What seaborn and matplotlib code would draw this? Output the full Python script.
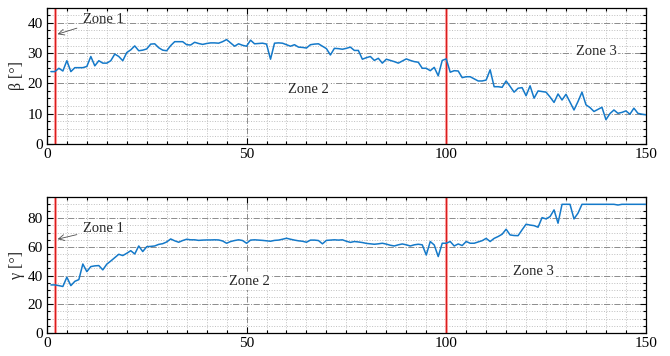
import pandas as pd
import matplotlib.pyplot as plt
import seaborn as sns
from matplotlib.ticker import MultipleLocator

# Data (one sample per step)
step = list(range(1, 151))
beta = [23.9, 23.9, 25.0, 24.1, 27.5, 23.9, 25.2, 25.2, 25.2, 25.6,
        28.9, 25.8, 27.5, 26.7, 26.7, 27.5, 29.7, 28.9, 27.5, 30.2,
        31.1, 32.4, 30.8, 31.0, 31.4, 33.0, 33.1, 31.8, 31.0, 30.8,
        32.5, 33.8, 33.8, 33.8, 32.8, 32.7, 33.6, 33.2, 32.9, 33.2,
        33.4, 33.4, 33.3, 33.8, 34.5, 33.4, 32.3, 33.1, 32.6, 32.3,
        34.3, 33.1, 33.2, 33.3, 33.0, 28.0, 33.3, 33.4, 33.3, 32.8,
        32.3, 32.8, 32.0, 31.9, 31.7, 32.8, 33.0, 33.1, 32.3, 31.5,
        29.4, 31.6, 31.5, 31.3, 31.6, 32.0, 30.9, 30.9, 28.0, 28.5,
        28.9, 27.6, 28.3, 26.7, 28.0, 27.6, 27.2, 26.7, 27.4, 28.1,
        27.6, 27.2, 27.0, 25.0, 25.0, 24.2, 25.3, 22.5, 27.6, 28.1,
        23.7, 24.2, 24.1, 21.9, 22.2, 22.2, 21.5, 20.8, 20.8, 21.1,
        24.5, 18.9, 18.9, 18.7, 20.8, 19.0, 17.1, 18.4, 18.6, 15.9,
        19.2, 15.1, 17.5, 17.3, 17.1, 15.5, 13.7, 16.5, 14.5, 16.4,
        13.8, 11.2, 14.0, 17.1, 12.9, 12.0, 10.7, 11.4, 12.1, 8.0,
        10.0, 11.2, 10.1, 10.4, 10.9, 9.8, 11.8, 10.1, 9.8, 9.6]
gamma = [33.5, 33.5, 33.0, 32.4, 38.9, 33.0, 36.0, 37.2, 48.1, 42.8,
         46.3, 46.8, 47.0, 44.0, 48.0, 50.2, 52.5, 54.9, 54.0, 55.6,
         57.4, 55.1, 60.7, 56.8, 60.2, 60.4, 60.7, 61.8, 62.3, 63.5,
         65.6, 64.3, 63.3, 64.5, 65.4, 65.0, 65.0, 64.6, 64.8, 64.9,
         64.9, 65.0, 64.9, 64.2, 62.6, 63.8, 64.5, 65.0, 64.5, 62.6,
         64.8, 65.0, 64.8, 64.6, 64.3, 64.0, 64.6, 64.8, 65.4, 66.1,
         65.4, 64.8, 64.3, 64.0, 63.3, 64.8, 64.8, 64.5, 62.2, 64.6,
         64.8, 65.0, 64.8, 65.0, 64.0, 63.2, 63.8, 63.5, 63.1, 62.5,
         62.2, 61.9, 62.2, 62.6, 62.0, 61.2, 60.7, 61.5, 62.1, 61.5,
         60.7, 61.5, 61.9, 61.5, 54.4, 63.8, 61.4, 53.3, 62.6, 62.6,
         63.8, 60.7, 62.1, 61.0, 63.8, 62.6, 62.6, 63.5, 64.4, 66.0,
         63.8, 66.0, 67.3, 68.9, 72.4, 68.4, 68.0, 67.9, 72.0, 75.9,
         75.3, 74.9, 73.8, 80.5, 79.6, 81.2, 85.9, 76.6, 89.8, 89.8,
         89.8, 79.6, 83.6, 89.8, 89.8, 89.8, 89.8, 89.8, 89.8, 89.8,
         89.8, 89.8, 89.3, 89.8, 89.8, 89.8, 89.8, 89.8, 89.8, 89.8]
zone_edges = [2, 100]

df = pd.DataFrame({'step': step, 'beta': beta, 'gamma': gamma})

sns.set_theme(style='ticks')
plt.rcParams['font.family'] = ['Liberation Serif', 'DejaVu Serif']
plt.rcParams['mathtext.fontset'] = 'stix'

fig, axes = plt.subplots(2, 1, figsize=(6.7, 3.56), dpi=100)
fig.subplots_adjust(left=0.070, right=0.964, top=0.978, bottom=0.065, hspace=0.39)

panels = [
    ('beta', 'β [°]', 45, 10, 2.5,
     [('Zone 2', 65.5, 18.0), ('Zone 3', 137.5, 30.4)], (36, 41)),
    ('gamma', 'γ [°]', 95, 20, 5,
     [('Zone 2', 50.75, 35.6), ('Zone 3', 121.75, 42.6)], (65, 73)),
]

for ax, (col, label, ymax, ymaj, ymin, zones, z1) in zip(axes, panels):
    ax.set_axisbelow(True)
    ax.grid(which='minor', ls=':', color='0.75', lw=0.7)
    ax.grid(which='major', ls='-.', color='0.55', lw=0.7)

    for xe in zone_edges:
        ax.axvline(xe, color='#ff9a9a', lw=2.2, alpha=0.8, zorder=2)
        ax.axvline(xe, color='#d81e1e', lw=0.9, zorder=2)

    sns.lineplot(data=df, x='step', y=col, ax=ax, color='#1479c9', lw=1.1, zorder=3)

    ax.set_xlim(0, 150)
    ax.set_ylim(0, ymax)
    ax.xaxis.set_major_locator(MultipleLocator(50))
    ax.xaxis.set_minor_locator(MultipleLocator(5))
    ax.yaxis.set_major_locator(MultipleLocator(ymaj))
    ax.yaxis.set_minor_locator(MultipleLocator(ymin))
    ax.tick_params(which='both', direction='in', top=True, right=True,
                   labelsize=11, colors='black', width=0.8)
    ax.tick_params(which='major', length=4, pad=3)
    ax.tick_params(which='minor', length=2)
    for sp in ax.spines.values():
        sp.set_color('black')
        sp.set_linewidth(0.9)
    ax.set_xlabel('')
    ax.set_ylabel(label, fontsize=11.5, labelpad=2)

    ax.annotate('Zone 1', xy=(2, z1[0]), xytext=(9, z1[1]), fontsize=10.5,
                ha='left', va='center',
                arrowprops=dict(arrowstyle='->', color='0.3', lw=0.6))
    for txt, zx, zy in zones:
        ax.text(zx, zy, txt, fontsize=10.5, ha='center', va='center', zorder=4,
                bbox=dict(facecolor='white', edgecolor='none', pad=1.5, alpha=0.9))

plt.savefig('out.png', dpi=100)
